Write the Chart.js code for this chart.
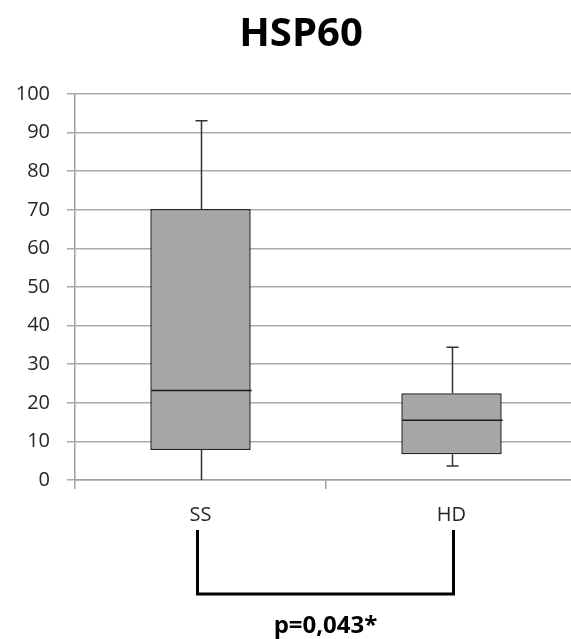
<!DOCTYPE html>
<html>
<head>
<meta charset="utf-8">
<script src="https://cdn.jsdelivr.net/npm/chart.js@4.4.0/dist/chart.umd.min.js"></script>
<style>
  html, body { margin: 0; padding: 0; overflow: hidden; background: #fff; }
  #wrap { width: 580px; height: 639px; }
</style>
</head>
<body>
<div id="wrap"><canvas id="c" width="580" height="639"></canvas></div>
<script>
const categories = ['SS', 'HD'];
const minValues = [0, 3.6];
const q1Values = [7.8, 6.7];
const medianValues = [23.2, 15.5];
const q3Values = [70.2, 22.5];
const maxValues = [93.1, 34.4];
const yTicks = [0, 10, 20, 30, 40, 50, 60, 70, 80, 90, 100];
const chartTitle = 'HSP60';
const pText = 'p=0,043*';

const boxData = categories.map((c, i) => [q1Values[i], q3Values[i]]);

const boxPlugin = {
  id: 'boxExtras',
  afterDatasetsDraw(chart) {
    const ctx = chart.ctx;
    const xs = chart.scales.x, ys = chart.scales.y;
    const meta = chart.getDatasetMeta(0);
    ctx.save();
    ctx.lineWidth = 1.5;
    categories.forEach((c, i) => {
      const x = Math.round(xs.getPixelForValue(i)) + 0.5;
      const bw = meta.data[i].width;
      const yMin = ys.getPixelForValue(minValues[i]);
      const yQ1 = ys.getPixelForValue(q1Values[i]);
      const yQ3 = ys.getPixelForValue(q3Values[i]);
      const yMax = ys.getPixelForValue(maxValues[i]);
      const yMed = ys.getPixelForValue(medianValues[i]);
      ctx.strokeStyle = '#333';
      ctx.beginPath();
      ctx.moveTo(x, yQ3); ctx.lineTo(x, yMax);
      ctx.moveTo(x, yQ1); ctx.lineTo(x, yMin);
      ctx.moveTo(x - 6, yMax); ctx.lineTo(x + 6, yMax);
      if (minValues[i] > ys.min) { ctx.moveTo(x - 6, yMin); ctx.lineTo(x + 6, yMin); }
      ctx.stroke();
      ctx.strokeStyle = '#1a1a1a';
      ctx.beginPath();
      ctx.moveTo(x - bw / 2, yMed); ctx.lineTo(x + bw / 2, yMed);
      ctx.stroke();
    });
    ctx.restore();
  },
  afterDraw(chart) {
    const ctx = chart.ctx;
    const xs = chart.scales.x;
    const area = chart.chartArea;
    ctx.save();
    ctx.fillStyle = '#000';
    ctx.font = 'bold 40px "Open Sans"';
    ctx.textAlign = 'center';
    ctx.textBaseline = 'middle';
    ctx.fillText(chartTitle, area.left + 226, 35);
    const xL = xs.getPixelForValue(0) - 3;
    const xR = xs.getPixelForValue(1) + 2;
    const yT = area.bottom + 50;
    const yB = area.bottom + 114;
    ctx.strokeStyle = '#000';
    ctx.lineWidth = 3;
    ctx.beginPath();
    ctx.moveTo(xL, yT); ctx.lineTo(xL, yB); ctx.lineTo(xR, yB); ctx.lineTo(xR, yT);
    ctx.stroke();
    ctx.font = 'bold 24px "Open Sans"';
    ctx.fillText(pText, (xL + xR) / 2, area.bottom + 146);
    ctx.restore();
  }
};

new Chart(document.getElementById('c'), {
  type: 'bar',
  data: {
    labels: categories,
    datasets: [{
      data: boxData,
      backgroundColor: '#a6a6a6',
      borderColor: '#262626',
      borderWidth: 1.5,
      borderSkipped: false,
      barPercentage: 0.4,
      categoryPercentage: 1.0
    }]
  },
  options: {
    responsive: false,
    animation: false,
    layout: { padding: { top: 94, right: 3, bottom: 109, left: 0 } },
    plugins: { legend: { display: false }, tooltip: { enabled: false }, title: { display: false } },
    scales: {
      x: {
        offset: true,
        grid: { offset: true, drawOnChartArea: false, drawTicks: true, tickLength: 9, color: '#a0a0a0', lineWidth: 1.5 },
        border: { display: true, color: '#a0a0a0', width: 1.5 },
        ticks: { color: '#262626', font: { family: '"Open Sans"', size: 20 }, padding: 14 },
        afterFit(s) { s.height = 50; }
      },
      y: {
        min: 0, max: 100,
        afterBuildTicks(s) { s.ticks = yTicks.map(v => ({ value: v })); },
        grid: { color: '#ababab', lineWidth: 1.5, drawTicks: true, tickLength: 8 },
        border: { display: true, color: '#a0a0a0', width: 1.5 },
        ticks: { color: '#262626', font: { family: '"Open Sans"', size: 20 }, padding: 17 },
        afterFit(s) { s.width = 75; }
      }
    }
  },
  plugins: [boxPlugin]
});
</script>
</body>
</html>
